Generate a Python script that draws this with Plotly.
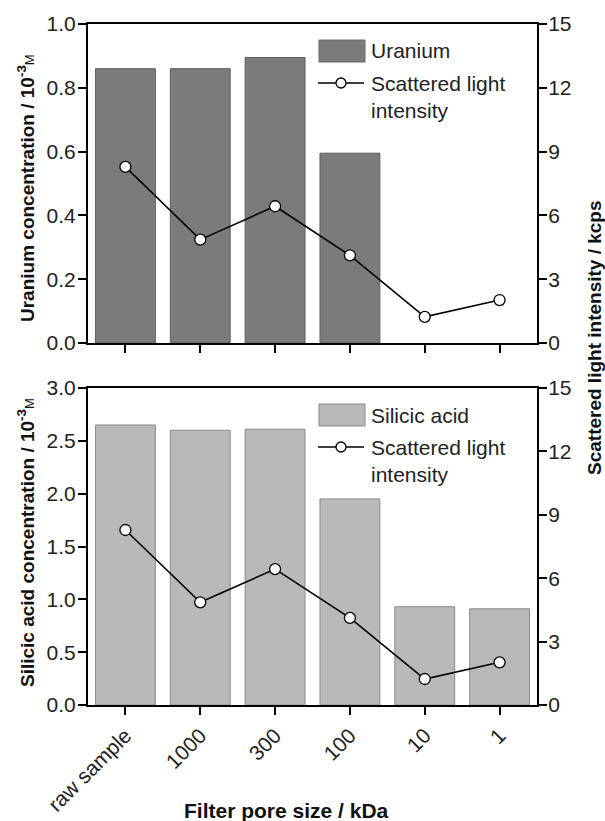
import plotly.graph_objects as go
from plotly.subplots import make_subplots

categories = ["raw sample", "1000", "300", "100", "10", "1"]
uranium = [0.86, 0.86, 0.895, 0.595, None, None]
silicic = [2.65, 2.60, 2.61, 1.95, 0.93, 0.91]
scatter_int = [8.28, 4.86, 6.43, 4.12, 1.23, 2.02]

FONT = "Liberation Sans, Arial, sans-serif"
W, H = 605, 821
L, R, T, B = 88, 537, 24, 705  # plot area in px

def px(x):
    return (x - L) / (R - L)

def py(y):
    return (B - y) / (B - T)

fig = make_subplots(rows=2, cols=1, specs=[[{"secondary_y": True}], [{"secondary_y": True}]])

fig.add_trace(go.Bar(x=categories, y=uranium, marker=dict(color="#7b7b7b", line=dict(color="#5e5e5e", width=1)),
                     width=0.8, showlegend=False), row=1, col=1, secondary_y=False)
fig.add_trace(go.Scatter(x=categories, y=scatter_int, mode="lines+markers",
                         line=dict(color="black", width=1.6),
                         marker=dict(symbol="circle", size=11, color="white", line=dict(color="black", width=1.3)),
                         showlegend=False), row=1, col=1, secondary_y=True)
fig.add_trace(go.Bar(x=categories, y=silicic, marker=dict(color="#b9b9b9", line=dict(color="#8a8a8a", width=1)),
                     width=0.8, showlegend=False), row=2, col=1, secondary_y=False)
fig.add_trace(go.Scatter(x=categories, y=scatter_int, mode="lines+markers",
                         line=dict(color="black", width=1.6),
                         marker=dict(symbol="circle", size=11, color="white", line=dict(color="black", width=1.3)),
                         showlegend=False), row=2, col=1, secondary_y=True)

top_dom = [py(343), 1.0]
bot_dom = [0.0, py(388)]

axis_common = dict(showline=True, linecolor="black", linewidth=2, ticks="outside", ticklen=8,
                   tickwidth=1.5, tickcolor="black", showgrid=False, zeroline=False, automargin=False,
                   tickfont=dict(family=FONT, size=21, color="#222"))

fig.update_layout(
    width=W, height=H, margin=dict(l=L, r=W - R, t=T, b=H - B),
    plot_bgcolor="white", paper_bgcolor="white", bargap=0.2,
    xaxis=dict(**axis_common, domain=[0, 1], anchor="y", mirror=True, showticklabels=False,
               range=[-0.5, 5.5], type="category"),
    yaxis=dict(**axis_common, domain=top_dom, range=[0, 1.0], dtick=0.2, tickformat=".1f", ticklabelstandoff=-2),
    yaxis2=dict(**axis_common, domain=top_dom, range=[0, 15], dtick=3, overlaying="y", side="right", anchor="x",
                ticklabelstandoff=-3),
    xaxis2=dict(**axis_common, domain=[0, 1], anchor="y3", mirror=True, tickangle=-45,
                range=[-0.5, 5.5], type="category"),
    yaxis3=dict(**axis_common, domain=bot_dom, range=[0, 3.0], dtick=0.5, tickformat=".1f", ticklabelstandoff=-2),
    yaxis4=dict(**axis_common, domain=bot_dom, range=[0, 15], dtick=3, overlaying="y3", side="right", anchor="x2",
                ticklabelstandoff=-3),
)

ann_font = dict(family=FONT, size=19, color="#111")
shapes = []
annotations = []

# axis titles
annotations.append(dict(text="<b>Uranium concentration / 10<sup>-3</sup></b><span style='font-size:13px'>M</span>",
                        x=px(26), y=py(188), xref="paper", yref="paper", textangle=-90, showarrow=False,
                        font=ann_font, xanchor="center", yanchor="middle"))
annotations.append(dict(text="<b>Silicic acid concentration / 10<sup>-3</sup></b><span style='font-size:13px'>M</span>",
                        x=px(26), y=py(543), xref="paper", yref="paper", textangle=-90, showarrow=False,
                        font=ann_font, xanchor="center", yanchor="middle"))
annotations.append(dict(text="<b>Scattered light intensity / kcps</b>",
                        x=px(594), y=py(338), xref="paper", yref="paper", textangle=-90, showarrow=False,
                        font=ann_font, xanchor="center", yanchor="middle"))
annotations.append(dict(text="<b>Filter pore size / kDa</b>",
                        x=px(286), y=py(811), xref="paper", yref="paper", showarrow=False,
                        font=dict(family=FONT, size=21, color="#111"), xanchor="center", yanchor="middle"))

# custom legends
def legend(y0, fill, line, label):
    shapes.append(dict(type="rect", xref="paper", yref="paper", x0=px(319), x1=px(365),
                       y0=py(y0), y1=py(y0 + 22), fillcolor=fill, line=dict(color=line, width=1)))
    annotations.append(dict(text=label, x=px(369), y=py(y0 + 11), xref="paper", yref="paper",
                            showarrow=False, xanchor="left", yanchor="middle",
                            font=dict(family=FONT, size=21, color="#222")))
    ly = y0 + 43
    shapes.append(dict(type="line", xref="paper", yref="paper", x0=px(318), x1=px(364),
                       y0=py(ly), y1=py(ly), line=dict(color="black", width=1.5)))
    shapes.append(dict(type="circle", xref="paper", yref="paper", x0=px(336), x1=px(346),
                       y0=py(ly - 5), y1=py(ly + 5), fillcolor="white", line=dict(color="black", width=1.3)))
    annotations.append(dict(text="Scattered light<br>intensity", x=px(369), y=py(ly - 13), xref="paper", yref="paper",
                            showarrow=False, xanchor="left", yanchor="top", align="left",
                            font=dict(family=FONT, size=21, color="#222")))

legend(40, "#7b7b7b", "#6a6a6a", "Uranium")
legend(404, "#b9b9b9", "#8a8a8a", "Silicic acid")

fig.update_layout(shapes=shapes, annotations=annotations)
fig.write_html("out.html", config={"displayModeBar": False},
               post_script="document.body.style.margin='0';document.body.style.padding='0';")
